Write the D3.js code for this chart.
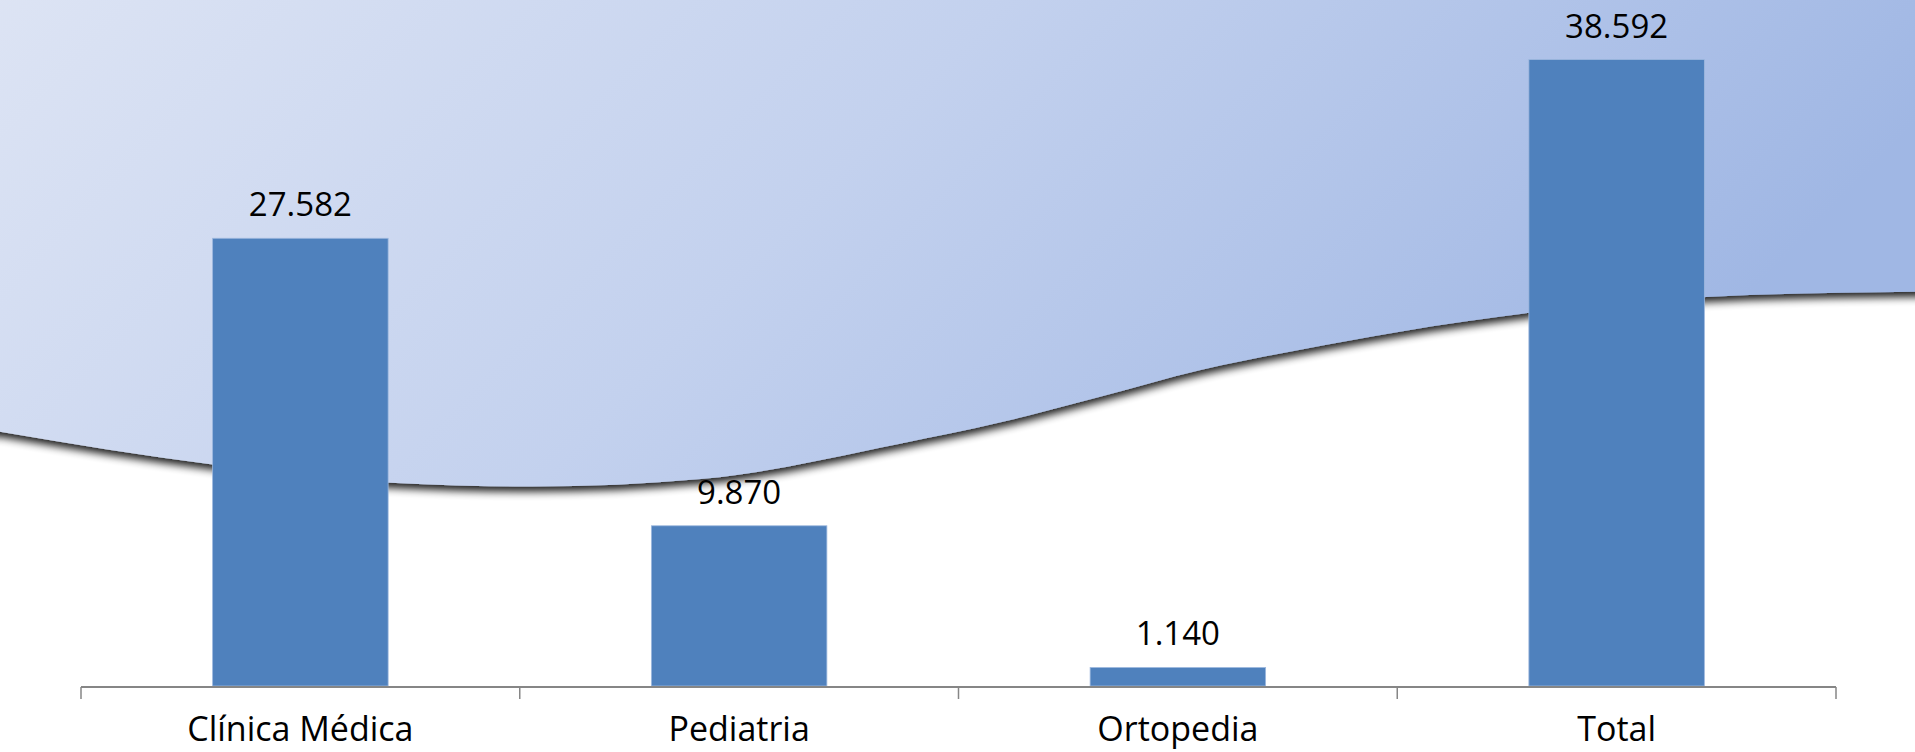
<!DOCTYPE html>
<html>
<head>
<meta charset="utf-8">
<script src="https://cdn.jsdelivr.net/npm/d3@7"></script>
<style>
  html, body { margin: 0; padding: 0; background: #ffffff; }
  svg { display: block; }
</style>
</head>
<body>
<svg id="chart" width="1915" height="752"></svg>
<script>
// ---- data ----
const categories = ["Clínica Médica", "Pediatria", "Ortopedia", "Total"];
const values = [27582, 9870, 1140, 38592];
const valueLabels = ["27.582", "9.870", "1.140", "38.592"];
const yMax = 40000;

// ---- decorative wave (fractions of width / height) ----
const waveShape = [
  [0.000, 0.574], [0.112, 0.618], [0.204, 0.642], [0.278, 0.647],
  [0.366, 0.637], [0.470, 0.590], [0.522, 0.562], [0.574, 0.528],
  [0.627, 0.492], [0.679, 0.465], [0.731, 0.441], [0.799, 0.416],
  [0.891, 0.395], [1.000, 0.388]
];

const W = 1915, H = 752;
const svg = d3.select("#chart");
const defs = svg.append("defs");

const grad = defs.append("linearGradient")
  .attr("id", "bgGrad").attr("x1", "0").attr("y1", "0").attr("x2", "1").attr("y2", "0.25");
grad.append("stop").attr("offset", "0%").attr("stop-color", "#DDE4F4");
grad.append("stop").attr("offset", "50%").attr("stop-color", "#C3D1EE");
grad.append("stop").attr("offset", "100%").attr("stop-color", "#A0B7E4");

const filt = defs.append("filter").attr("id", "shadow")
  .attr("x", "-5%").attr("y", "-5%").attr("width", "110%").attr("height", "120%");
filt.append("feGaussianBlur").attr("in", "SourceAlpha").attr("stdDeviation", 4).attr("result", "blur");
filt.append("feOffset").attr("in", "blur").attr("dy", 5).attr("result", "off");
filt.append("feComponentTransfer").attr("in", "off").attr("result", "shad")
  .append("feFuncA").attr("type", "linear").attr("slope", 0.9);
const merge = filt.append("feMerge");
merge.append("feMergeNode").attr("in", "shad");
merge.append("feMergeNode").attr("in", "SourceGraphic");

const wx = d3.scaleLinear().domain([0, 1]).range([0, W]);
const wy = d3.scaleLinear().domain([0, 1]).range([0, H]);
const waveLine = d3.line().x(d => wx(d[0])).y(d => wy(d[1])).curve(d3.curveMonotoneX);
const pts = waveShape.map(d => [wx(d[0]), wy(d[1])]);
const wavePath = "M" + (-10) + "," + (-10) + "L" + (-10) + "," + pts[0][1] +
  waveLine(waveShape).replace(/^M/, "L") + "L" + (W + 10) + "," + pts[pts.length - 1][1] +
  "L" + (W + 10) + "," + (-10) + "Z";
svg.append("path")
  .attr("d", wavePath)
  .attr("fill", "url(#bgGrad)")
  .attr("filter", "url(#shadow)");

// ---- chart ----
const plotLeft = 81, plotRight = 1836, baseY = 686, topY = 36.7;
const x = d3.scaleBand().domain(categories).range([plotLeft, plotRight]).padding(0);
const y = d3.scaleLinear().domain([0, yMax]).range([baseY, topY]);
const barFrac = 0.4;

const g = svg.append("g");

g.selectAll("rect.bar")
  .data(categories)
  .enter().append("rect")
  .attr("class", "bar")
  .attr("x", d => x(d) + x.bandwidth() * (1 - barFrac) / 2)
  .attr("width", x.bandwidth() * barFrac)
  .attr("y", (d, i) => y(values[i]))
  .attr("height", (d, i) => baseY - y(values[i]))
  .attr("fill", "#4F81BD")
  .attr("stroke", "#9DB8DE")
  .attr("stroke-width", 0.8);

// axis
const axis = d3.axisBottom(x).tickSize(12).tickFormat("");
const axG = g.append("g").attr("transform", `translate(0,${baseY + 1})`).call(axis);
axG.select(".domain").attr("stroke", "#868686").attr("stroke-width", 2)
  .attr("d", `M${plotLeft},0H${plotRight}`);
axG.selectAll(".tick").remove();
const bounds = categories.map(c => x(c)).concat([plotRight]);
axG.selectAll("line.bt").data(bounds).enter().append("line")
  .attr("class", "bt")
  .attr("x1", d => d).attr("x2", d => d)
  .attr("y1", 0).attr("y2", 12)
  .attr("stroke", "#868686").attr("stroke-width", 1.5);

// category labels
g.selectAll("text.cat")
  .data(categories)
  .enter().append("text")
  .attr("class", "cat")
  .attr("x", d => x(d) + x.bandwidth() / 2)
  .attr("y", 741)
  .attr("text-anchor", "middle")
  .attr("font-family", "'Open Sans', 'Liberation Sans', sans-serif")
  .attr("font-size", 34)
  .attr("fill", "#000")
  .text(d => d);

// value labels
g.selectAll("text.val")
  .data(categories)
  .enter().append("text")
  .attr("class", "val")
  .attr("x", d => x(d) + x.bandwidth() / 2)
  .attr("y", (d, i) => y(values[i]) - 22)
  .attr("text-anchor", "middle")
  .attr("font-family", "'Open Sans', 'Liberation Sans', sans-serif")
  .attr("font-size", 33)
  .attr("fill", "#000")
  .text((d, i) => valueLabels[i]);
</script>
</body>
</html>
